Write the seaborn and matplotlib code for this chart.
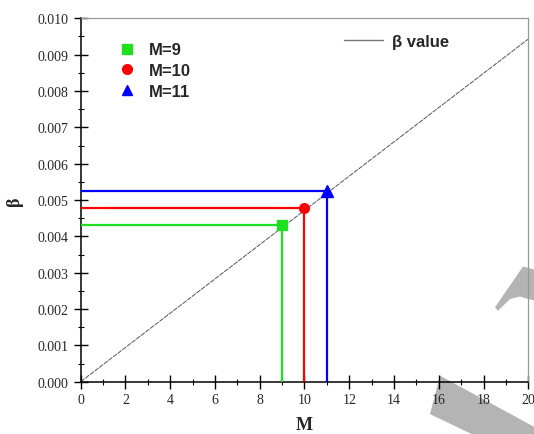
import seaborn as sns
import matplotlib
matplotlib.use('Agg')
import matplotlib.pyplot as plt
from matplotlib.patches import Polygon
from matplotlib.lines import Line2D
from matplotlib.ticker import MultipleLocator, FormatStrFormatter
import pandas as pd

# beta line end points
m_line = [0, 20]
beta_line = [0.0, 0.00943]

# chosen M values and their beta
m_points = [9, 10, 11]
beta_points = [0.00432, 0.00478, 0.00526]
point_labels = ['M=9', 'M=10', 'M=11']
point_colors = ['#1fe01f', '#ff0000', '#0000ff']
point_markers = ['s', 'o', '^']

sns.set_style('ticks')
plt.rcParams['font.family'] = ['Liberation Serif', 'DejaVu Serif']

fig = plt.figure(figsize=(5.34, 4.35), dpi=100)
ax = fig.add_axes([0.1511, 0.1202, 0.8382, 0.8354])
ax.set_facecolor('none')

df_line = pd.DataFrame({'M': m_line, 'beta': beta_line})
sns.lineplot(data=df_line, x='M', y='beta', ax=ax, color='#555555',
             linewidth=0.7, linestyle=(0, (5, 1)), zorder=2)

for m, b, c, mk in zip(m_points, beta_points, point_colors, point_markers):
    ax.plot([0, m, m], [b, b, 0], color=c, linewidth=1.6, zorder=3)
    ax.plot([m], [b], marker=mk, color=c, markersize=7 if mk != '^' else 8,
            linestyle='none', zorder=4)

ax.set_xlim(0, 20)
ax.set_ylim(0, 0.010)
ax.xaxis.set_major_locator(MultipleLocator(2))
ax.xaxis.set_minor_locator(MultipleLocator(1))
ax.yaxis.set_major_locator(MultipleLocator(0.001))
ax.yaxis.set_minor_locator(MultipleLocator(0.0005))
ax.yaxis.set_major_formatter(FormatStrFormatter('%.3f'))

ax.tick_params(which='major', direction='inout', length=10, width=1,
               color='black', labelsize=10, pad=3)
ax.tick_params(axis='y', which='major', pad=4)
ax.tick_params(which='minor', direction='inout', length=5, width=0.8,
               color='black')
ax.tick_params(top=False, right=False, which='both')

for side in ['left', 'bottom']:
    ax.spines[side].set_color('black')
    ax.spines[side].set_linewidth(1.1)
for side in ['top', 'right']:
    ax.spines[side].set_color('#999999')
    ax.spines[side].set_linewidth(0.9)

ax.set_xlabel('M', fontsize=13, fontweight='bold', labelpad=7)
ax.set_ylabel('β', fontsize=13, fontweight='bold', labelpad=10)

# legend for markers
handles = [Line2D([], [], marker=mk, color=c, linestyle='none', markersize=7)
           for c, mk in zip(point_colors, point_markers)]
leg1 = ax.legend(handles, point_labels, loc='upper left',
                 bbox_to_anchor=(0.052, 0.975), frameon=False,
                 handlelength=1.0, handletextpad=0.8, labelspacing=0.35,
                 prop={'family': 'Liberation Sans', 'weight': 'bold', 'size': 12})
ax.add_artist(leg1)

line_handle = Line2D([], [], color='#777777', linewidth=1.0)
ax.legend([line_handle], ['β value'], loc='upper left',
          bbox_to_anchor=(0.555, 0.999), frameon=False,
          handlelength=2.35, handletextpad=0.55,
          prop={'family': 'Liberation Sans', 'weight': 'bold', 'size': 12})

# gray watermark shapes in the lower right corner
W, H = 534.0, 435.0
shape_a = [(523, 267.5), (540, 272), (540, 302.5), (528, 300), (520, 297.5),
           (510, 300), (498, 311.7), (495, 308.3)]
shape_b = [(440, 376.7), (540, 431), (540, 440), (482, 440), (433.3, 416.7),
           (430, 415)]
for shape in (shape_a, shape_b):
    poly = Polygon([(x / W, 1 - y / H) for x, y in shape], closed=True,
                   facecolor='#b4b4b4', edgecolor='none',
                   transform=fig.transFigure, zorder=-1)
    fig.patches.append(poly)

fig.savefig('out.png', dpi=100)
plt.close(fig)
